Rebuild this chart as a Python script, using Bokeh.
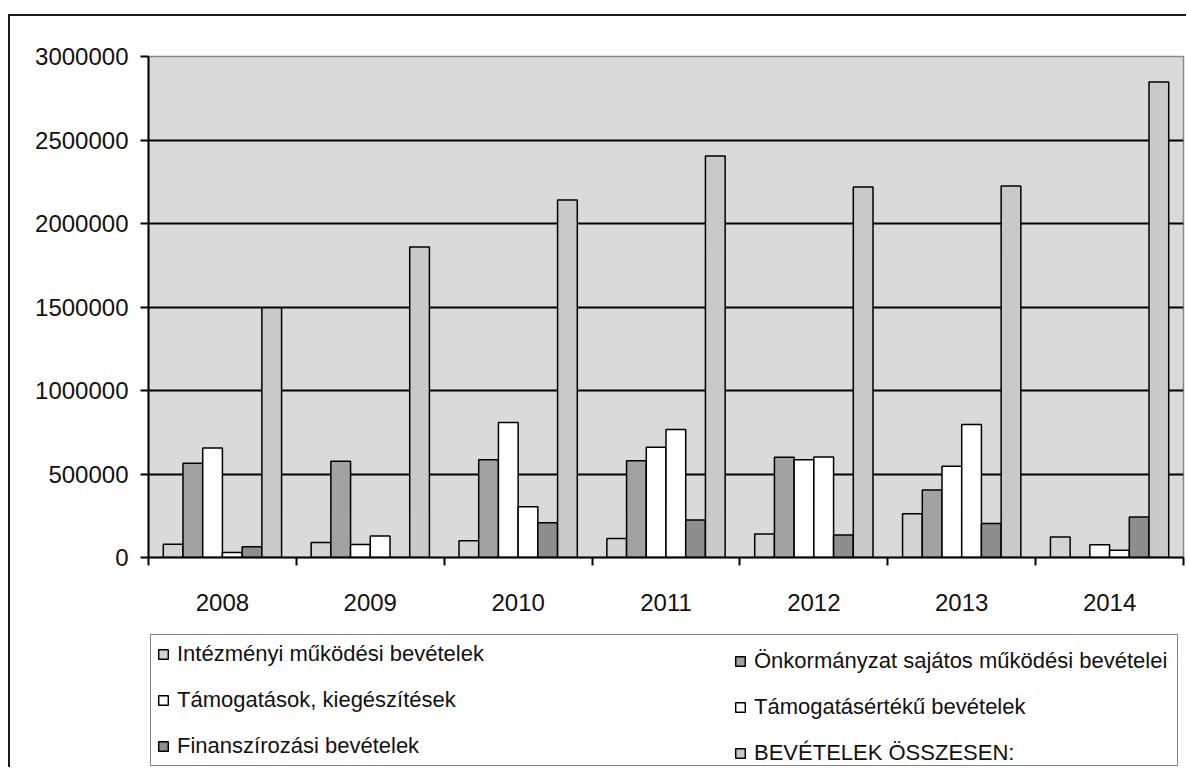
from bokeh.plotting import figure
from bokeh.layouts import column
from bokeh.models import (ColumnDataSource, Range1d, FixedTicker, BasicTickFormatter,
                          Legend, LegendItem)
from bokeh.transform import dodge
from bokeh.embed import file_html
from bokeh.resources import INLINE

years = ["2008", "2009", "2010", "2011", "2012", "2013", "2014"]
intezmenyi = [80000, 90000, 100000, 114000, 140000, 262000, 123000]
onkormanyzat = [565000, 576000, 586000, 580000, 600000, 404000, 0]
tamogatasok = [655000, 78000, 808000, 660000, 586000, 546000, 77000]
tamogatasertek = [30000, 128000, 304000, 766000, 602000, 796000, 43000]
finanszirozasi = [65000, 0, 208000, 224000, 134000, 204000, 243000]
osszesen = [1495000, 1860000, 2140000, 2404000, 2218000, 2225000, 2848000]

series_names = [
    "Intézményi működési bevételek",
    "Önkormányzat sajátos működési bevételei",
    "Támogatások, kiegészítések",
    "Támogatásértékű bevételek",
    "Finanszírozási bevételek",
    "BEVÉTELEK ÖSSZESEN:",
]
series_cols = ["intezmenyi", "onkormanyzat", "tamogatasok", "tamogatasertek",
               "finanszirozasi", "osszesen"]
series_colors = ["#d3d3d3", "#a2a2a2", "#ffffff", "#ffffff", "#8e8e8e", "#c9c9c9"]

src = ColumnDataSource(dict(
    xc=[i + 0.5 for i in range(len(years))],
    intezmenyi=intezmenyi, onkormanyzat=onkormanyzat, tamogatasok=tamogatasok,
    tamogatasertek=tamogatasertek, finanszirozasi=finanszirozasi, osszesen=osszesen,
))

FONT = "Liberation Sans"
bw = 1 / 7.5

# ---------------- main chart ----------------
p = figure(width=1176, height=611, x_range=Range1d(0, 7), y_range=Range1d(0, 3000000),
           output_backend="svg", toolbar_location=None,
           min_border_left=138, min_border_right=3, min_border_top=40, min_border_bottom=70)
p.background_fill_color = "#dadada"
p.border_fill_color = "white"
p.outline_line_color = "#8a8a8a"
p.outline_line_width = 1.5

for i, (col, color) in enumerate(zip(series_cols, series_colors)):
    p.vbar(x=dodge("xc", (i - 2.5) * bw), top=col, width=bw, bottom=0, source=src,
           fill_color=color, line_color="black", line_width=1.5)

p.xgrid.grid_line_color = None
p.ygrid.ticker = FixedTicker(ticks=[500000, 1000000, 1500000, 2000000, 2500000])
p.ygrid.grid_line_color = "black"
p.ygrid.grid_line_width = 2

p.yaxis.ticker = FixedTicker(ticks=[0, 500000, 1000000, 1500000, 2000000, 2500000, 3000000])
p.yaxis.formatter = BasicTickFormatter(use_scientific=False)
p.xaxis.ticker = FixedTicker(ticks=[i + 0.5 for i in range(len(years))],
                             minor_ticks=list(range(len(years) + 1)))
p.xaxis.major_label_overrides = {i + 0.5: y for i, y in enumerate(years)}
p.xaxis.major_tick_out = 0
p.xaxis.major_tick_in = 0
p.xaxis.minor_tick_out = 8
p.xaxis.minor_tick_in = 0
p.xaxis.minor_tick_line_color = "black"
p.xaxis.minor_tick_line_width = 2
p.xaxis.major_label_standoff = 28
p.yaxis.major_tick_out = 8
p.yaxis.major_tick_in = 0
p.yaxis.minor_tick_line_color = None
p.yaxis.major_label_standoff = 12
for ax in (p.xaxis, p.yaxis):
    ax.axis_line_color = "black"
    ax.axis_line_width = 2
    ax.major_tick_line_color = "black"
    ax.major_tick_line_width = 2
    ax.major_label_text_font = FONT
    ax.major_label_text_font_size = "24px"
    ax.major_label_text_color = "#111111"

# ---------------- legend strip (frame aligned with the chart above) ----------------
q = figure(width=1176, height=140, x_range=Range1d(0, 7), y_range=Range1d(0, 3000000),
           output_backend="svg", toolbar_location=None,
           min_border_left=138, min_border_right=3, min_border_top=0, min_border_bottom=0)
q.axis.visible = False
q.grid.visible = False
q.outline_line_color = None
q.background_fill_color = "white"
q.border_fill_color = "white"

# hidden copies of the series, used only for the legend swatches
leg_renderers = []
for i, (col, color) in enumerate(zip(series_cols, series_colors)):
    r = q.vbar(x=dodge("xc", (i - 2.5) * bw), top=col, width=bw, bottom=0,
               source=src, fill_color=color, line_color="black", line_width=1.5)
    r.visible = False
    leg_renderers.append(r)

common = dict(orientation="vertical", padding=6, spacing=20, label_height=26,
              glyph_height=12, glyph_width=12, label_standoff=8,
              label_text_font=FONT, label_text_font_size="22px",
              label_text_color="#111111", margin=0,
              inactive_fill_alpha=0.0, click_policy="none")
leg1 = Legend(items=[LegendItem(label=series_names[k], renderers=[leg_renderers[k]]) for k in (0, 2, 4)],
              location=(2, 1), label_width=994, border_line_color="black",
              border_line_width=1.5, background_fill_color="white", background_fill_alpha=1.0,
              **common)
leg2 = Legend(items=[LegendItem(label=series_names[k], renderers=[leg_renderers[k]]) for k in (1, 3, 5)],
              location=(586, 1), border_line_color=None, background_fill_alpha=0.0,
              **common)
q.add_layout(leg1)
q.add_layout(leg2)

layout = column(p, q, spacing=0,
                styles={"border-top": "2px solid #1a1a1a", "border-left": "2px solid #1a1a1a",
                        "margin-left": "8px", "margin-top": "14px"})

open("out.html", "w").write(file_html(layout, INLINE))
